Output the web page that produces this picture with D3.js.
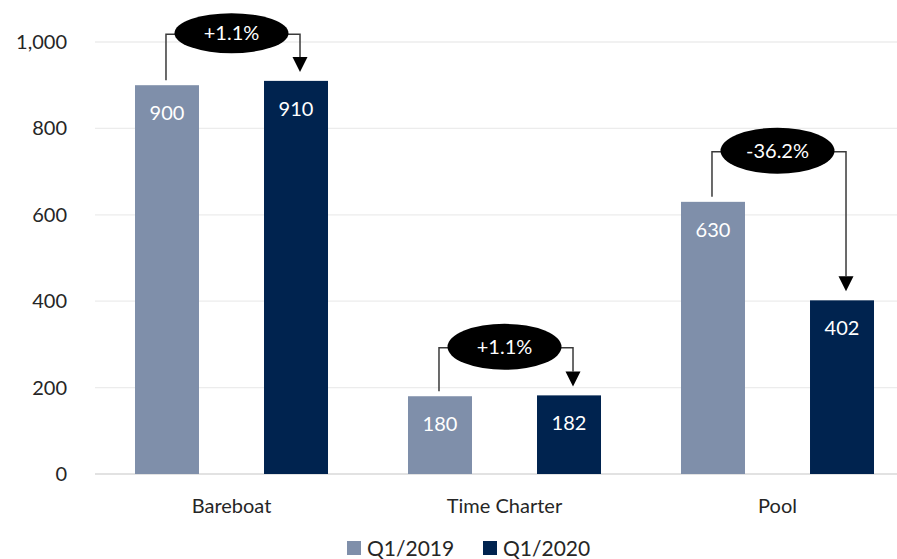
<!DOCTYPE html>
<html>
<head>
<meta charset="utf-8">
<script src="https://cdn.jsdelivr.net/npm/d3@7"></script>
<style>
  html, body { margin: 0; padding: 0; background: #fff; }
  svg { display: block; font-family: Lato, "Noto Sans", sans-serif; }
</style>
</head>
<body>
<svg id="chart" width="897" height="559"></svg>
<script>
// Fleet categories and the two quarters compared
const categories = ["Bareboat", "Time Charter", "Pool"];
const seriesNames = ["Q1/2019", "Q1/2020"];
const q12019 = [900, 180, 630];
const q12020 = [910, 182, 402];
// Year-on-year change shown in the callouts, and the level of each callout bracket
const changeLabels = ["+1.1%", "+1.1%", "-36.2%"];
const bracketLevels = [1018, 292, 746];
const yTicks = [0, 200, 400, 600, 800, 1000];

const colors = { "Q1/2019": "#7f8faa", "Q1/2020": "#00234f" };

const svg = d3.select("#chart");

const x0 = d3.scaleBand().domain(categories).range([95, 914]).paddingInner(0).paddingOuter(0);
const x1 = d3.scaleBand().domain(seriesNames).range([0, x0.bandwidth()])
  .paddingInner(0.504).paddingOuter(0.31);
const y = d3.scaleLinear().domain([0, 1000]).range([474, 42]);

// Horizontal gridlines
svg.append("g")
  .selectAll("line")
  .data(yTicks)
  .join("line")
  .attr("x1", 95).attr("x2", 914)
  .attr("y1", d => y(d)).attr("y2", d => y(d))
  .attr("stroke", d => d === 0 ? "#d9d9d9" : "#ececec")
  .attr("stroke-width", 1.3);

// Y axis labels
const yAxis = d3.axisLeft(y).tickValues(yTicks).tickSize(0).tickPadding(0)
  .tickFormat(d3.format(","));
const yg = svg.append("g").attr("transform", "translate(67,0)").call(yAxis);
yg.select(".domain").remove();
yg.selectAll("text").attr("font-size", 20).attr("fill", "#262626")
  .attr("font-family", "Lato, 'Noto Sans', sans-serif");

// X axis labels
const xAxis = d3.axisBottom(x0).tickSize(0).tickPadding(0);
const xg = svg.append("g").attr("transform", "translate(0,499)").call(xAxis);
xg.select(".domain").remove();
xg.selectAll("text").attr("font-size", 20).attr("fill", "#262626")
  .attr("font-family", "Lato, 'Noto Sans', sans-serif");

// Bars
const rows = categories.map((c, i) => ({
  category: c,
  values: [
    { series: "Q1/2019", value: q12019[i] },
    { series: "Q1/2020", value: q12020[i] }
  ]
}));

const groups = svg.append("g").selectAll("g")
  .data(rows)
  .join("g")
  .attr("transform", d => `translate(${x0(d.category)},0)`);

groups.selectAll("rect")
  .data(d => d.values)
  .join("rect")
  .attr("x", d => x1(d.series))
  .attr("width", x1.bandwidth())
  .attr("y", d => y(d.value))
  .attr("height", d => y(0) - y(d.value))
  .attr("fill", d => colors[d.series]);

groups.selectAll("text")
  .data(d => d.values)
  .join("text")
  .attr("x", d => x1(d.series) + x1.bandwidth() / 2)
  .attr("y", d => y(d.value) + 27)
  .attr("text-anchor", "middle")
  .attr("dominant-baseline", "central")
  .attr("fill", "#fff")
  .attr("font-size", 20)
  .text(d => d.value);

// Change callouts: bracket from the earlier bar to an arrow over the later bar
const callouts = svg.append("g");
rows.forEach((r, i) => {
  const xa = x0(r.category) + x1("Q1/2019") + x1.bandwidth() / 2 - 1;
  const xb = x0(r.category) + x1("Q1/2020") + x1.bandwidth() / 2 + 4;
  const yb = y(bracketLevels[i]);
  const yStart = y(q12019[i]) - 5;
  const tip = y(q12020[i]) - 9;
  const headH = 15, headW = 15;
  const cx = x0(r.category) + x0.bandwidth() / 2;

  callouts.append("path")
    .attr("d", `M${xa},${yStart}V${yb}H${xb}V${tip - headH}`)
    .attr("fill", "none")
    .attr("stroke", "#3a3a3a")
    .attr("stroke-width", 1.5);

  callouts.append("path")
    .attr("d", `M${xb - headW / 2},${tip - headH}L${xb + headW / 2},${tip - headH}L${xb},${tip}Z`)
    .attr("fill", "#000");

  callouts.append("ellipse")
    .attr("cx", cx).attr("cy", yb - 1)
    .attr("rx", 57).attr("ry", i === 0 ? 20 : 23)
    .attr("fill", "#000");

  callouts.append("text")
    .attr("x", cx).attr("y", yb - 2)
    .attr("text-anchor", "middle")
    .attr("dominant-baseline", "central")
    .attr("fill", "#fff")
    .attr("font-size", 20)
    .text(changeLabels[i]);
});

// Legend
const legendItems = [
  { name: "Q1/2019", x: 347 },
  { name: "Q1/2020", x: 483 }
];
const legend = svg.append("g").selectAll("g")
  .data(legendItems)
  .join("g")
  .attr("transform", d => `translate(${d.x},547)`);
legend.append("rect")
  .attr("x", 0).attr("y", -6).attr("width", 14).attr("height", 14)
  .attr("fill", d => colors[d.name]);
legend.append("text")
  .attr("x", 20).attr("y", 0)
  .attr("dominant-baseline", "central")
  .attr("font-size", 21)
  .attr("fill", "#262626")
  .text(d => d.name);
</script>
</body>
</html>
